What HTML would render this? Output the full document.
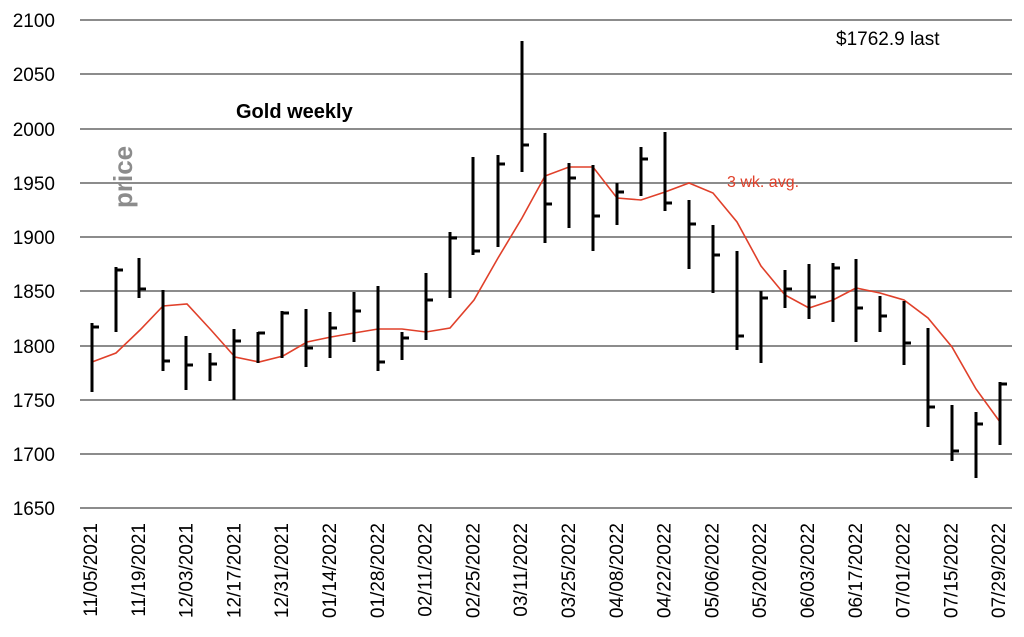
<!DOCTYPE html>
<html><head><meta charset="utf-8"><style>
html,body{margin:0;padding:0;background:#fff;}
svg{display:block;font-family:"Liberation Sans",Arial,sans-serif;}
</style></head><body>
<svg width="1024" height="637" viewBox="0 0 1024 637" xmlns="http://www.w3.org/2000/svg">
<g stroke="#8c8c8c" stroke-width="2">
<line x1="80" y1="20" x2="1012" y2="20"/>
<line x1="80" y1="74" x2="1012" y2="74"/>
<line x1="80" y1="129" x2="1012" y2="129"/>
<line x1="80" y1="183" x2="1012" y2="183"/>
<line x1="80" y1="237" x2="1012" y2="237"/>
<line x1="80" y1="291" x2="1012" y2="291"/>
<line x1="80" y1="346" x2="1012" y2="346"/>
<line x1="80" y1="400" x2="1012" y2="400"/>
<line x1="80" y1="454" x2="1012" y2="454"/>
<line x1="80" y1="508" x2="1012" y2="508"/>
</g>
<g font-size="19" fill="#000" text-anchor="end">
<text x="55" y="27">2100</text><text x="55" y="81">2050</text><text x="55" y="136">2000</text>
<text x="55" y="190">1950</text><text x="55" y="244">1900</text><text x="55" y="298">1850</text>
<text x="55" y="353">1800</text><text x="55" y="407">1750</text><text x="55" y="461">1700</text>
<text x="55" y="515">1650</text>
</g>
<text x="236" y="118" font-size="20" font-weight="bold">Gold weekly</text>
<text x="836" y="45" font-size="19">$1762.9 last</text>
<text x="727" y="187" font-size="16" fill="#e0402a">3 wk. avg.</text>
<text transform="translate(132,208) rotate(-90)" font-size="26" font-weight="bold" fill="#8c8c8c">price</text>
<polyline fill="none" stroke="#e0402a" stroke-width="1.6" points="92,362 116,353 140,330 163,306 187,304 211,330 235,357 259,362 283,356 307,342 331,337 354,333 378,329 402,329 426,332 450,328 474,300 498,258 522,218 545,176 569,167 593,167 617,198 641,200 665,192 689,183 713,193 737,222 761,266 785,295 809,308 833,300 856,288 880,293 904,300 928,318 952,347 976,389 1000,422"/>
<path fill="none" stroke="#000" stroke-width="3" d="
M92 323V392M92 327h7
M116 267V332M116 270h7
M139 258V298M139 289h7
M163 290V371M163 361h7
M186 336V390M186 365h7
M210 353V381M210 364h7
M234 329V400M234 341h7
M258 332V363M258 333h7
M282 311V358M282 313h7
M306 309V367M306 348h7
M330 312V358M330 328h7
M354 292V342M354 311h7
M378 286V371M378 362h7
M402 332V360M402 338h7
M426 273V340M426 300h7
M450 232V298M450 238h7
M473 157V255M473 251h7
M498 155V247M498 164h7
M522 41V172M522 145h7
M545 133V243M545 204h7
M569 163V228M569 178h7
M593 165V251M593 216h7
M617 183V225M617 192h7
M641 147V196M641 159h7
M665 132V211M665 203h7
M689 200V269M689 224h7
M713 225V293M713 255h7
M737 251V350M737 336h7
M761 291V363M761 298h7
M785 270V308M785 289h7
M809 264V319M809 297h7
M833 263V322M833 268h7
M856 259V342M856 308h7
M880 296V332M880 316h7
M904 301V365M904 343h7
M928 328V427M928 407h7
M952 405V461M952 451h7
M976 412V478M976 424h7
M1000 382V445M1000 384h7"/>
<g font-size="19" fill="#000" text-anchor="end">
<text transform="translate(97,523) rotate(-90)">11/05/2021</text>
<text transform="translate(144.8,523) rotate(-90)">11/19/2021</text>
<text transform="translate(192.6,523) rotate(-90)">12/03/2021</text>
<text transform="translate(240.4,523) rotate(-90)">12/17/2021</text>
<text transform="translate(288.2,523) rotate(-90)">12/31/2021</text>
<text transform="translate(336,523) rotate(-90)">01/14/2022</text>
<text transform="translate(383.8,523) rotate(-90)">01/28/2022</text>
<text transform="translate(431.6,523) rotate(-90)">02/11/2022</text>
<text transform="translate(479.4,523) rotate(-90)">02/25/2022</text>
<text transform="translate(527.2,523) rotate(-90)">03/11/2022</text>
<text transform="translate(575,523) rotate(-90)">03/25/2022</text>
<text transform="translate(622.8,523) rotate(-90)">04/08/2022</text>
<text transform="translate(670.6,523) rotate(-90)">04/22/2022</text>
<text transform="translate(718.4,523) rotate(-90)">05/06/2022</text>
<text transform="translate(766.2,523) rotate(-90)">05/20/2022</text>
<text transform="translate(814,523) rotate(-90)">06/03/2022</text>
<text transform="translate(861.8,523) rotate(-90)">06/17/2022</text>
<text transform="translate(909.6,523) rotate(-90)">07/01/2022</text>
<text transform="translate(957.4,523) rotate(-90)">07/15/2022</text>
<text transform="translate(1005.2,523) rotate(-90)">07/29/2022</text>
</g>
</svg>
</body></html>
